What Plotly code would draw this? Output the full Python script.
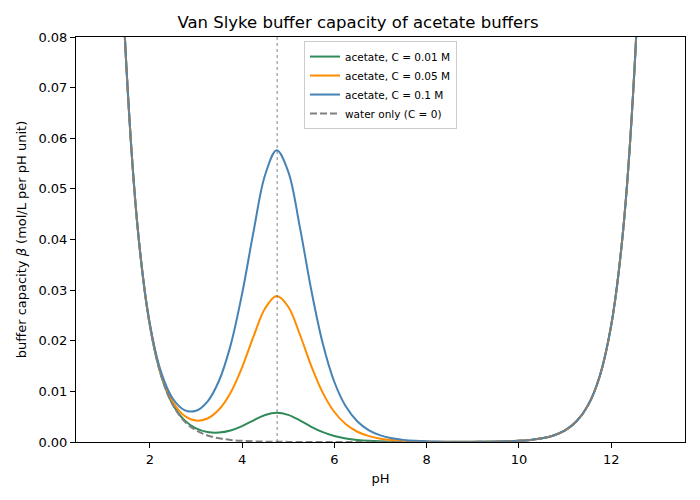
import plotly.graph_objects as go

# pH grid and buffer capacity readings (mol/L per pH unit)
ph = [1.0, 1.25, 1.5, 1.75, 2.0, 2.25, 2.5, 2.75, 3.0, 3.25, 3.5, 3.75,
      4.0, 4.25, 4.5, 4.75, 5.0, 5.25, 5.5, 5.75, 6.0, 6.25, 6.5, 6.75,
      7.0, 7.25, 7.5, 7.75, 8.0, 8.25, 8.5, 8.75, 9.0, 9.25, 9.5, 9.75,
      10.0, 10.25, 10.5, 10.75, 11.0, 11.25, 11.5, 11.75, 12.0, 12.25, 12.5, 12.75, 13.0]

beta_c001 = [0.230304, 0.129517, 0.072840, 0.040976, 0.023070, 0.013022, 0.007408, 0.004316,
             0.002690, 0.001965, 0.001865, 0.002277, 0.003135, 0.004283, 0.005344, 0.005798,
             0.005363, 0.004267, 0.003007, 0.001944, 0.001187, 0.000700, 0.000405, 0.000231,
             0.000132, 0.0000744, 0.0000425, 0.0000248, 0.0000155, 0.0000115, 0.0000115, 0.0000154,
             0.0000243, 0.0000418, 0.0000732, 0.0001297, 0.0002304, 0.00041, 0.000728, 0.001295,
             0.002303, 0.004095, 0.007283, 0.012951, 0.02303, 0.040954, 0.072827, 0.12951, 0.2303]

beta_c005 = [0.23032, 0.12955, 0.07289, 0.04107, 0.02323, 0.013305, 0.007909, 0.005199,
             0.004236, 0.004644, 0.006414, 0.009748, 0.014754, 0.020897, 0.026428, 0.028826,
             0.026721, 0.021283, 0.015006, 0.009701, 0.005927, 0.003498, 0.002022, 0.001155,
             0.000656, 0.000371, 0.000210, 0.000119, 0.0000685, 0.0000413, 0.0000282, 0.0000248,
             0.0000296, 0.0000447, 0.0000749, 0.0001307, 0.000231, 0.00041, 0.000728, 0.001295,
             0.002303, 0.004095, 0.007283, 0.012951, 0.02303, 0.040954, 0.072827, 0.12951, 0.2303]

beta_c01 = [0.23034, 0.12958, 0.07295, 0.04118, 0.02343, 0.01366, 0.008535, 0.006303,
            0.006170, 0.007992, 0.012100, 0.019087, 0.029278, 0.041664, 0.052783, 0.057611,
            0.053418, 0.042552, 0.030004, 0.019398, 0.011851, 0.006993, 0.004043, 0.002310,
            0.001311, 0.000741, 0.000418, 0.000237, 0.000135, 0.0000786, 0.0000492, 0.0000366,
            0.0000363, 0.0000485, 0.000077, 0.000132, 0.000232, 0.00041, 0.000729, 0.001295,
            0.002303, 0.004095, 0.007283, 0.012951, 0.02303, 0.040954, 0.072827, 0.12951, 0.2303]

beta_water = [0.2303, 0.12951, 0.072827, 0.040954, 0.02303, 0.012951, 0.0072827, 0.0040954,
              0.002303, 0.0012951, 0.00072827, 0.00040954, 0.0002303, 0.0001295, 0.0000728, 0.000041,
              0.000023, 0.000013, 0.0000073, 0.0000041, 0.0000023, 0.0000013, 0.0000007, 0.0000004,
              0.00000046, 0.0000004, 0.0000007, 0.0000013, 0.0000023, 0.0000041, 0.0000073, 0.000013,
              0.000023, 0.000041, 0.0000728, 0.0001295, 0.0002303, 0.00040954, 0.00072827, 0.0012951,
              0.002303, 0.0040954, 0.0072827, 0.012951, 0.02303, 0.040954, 0.072827, 0.12951, 0.2303]

pka = 4.76

series = [
    ("acetate, C = 0.01 M", beta_c001, "#2e8b57", "solid"),
    ("acetate, C = 0.05 M", beta_c005, "#ff8c00", "solid"),
    ("acetate, C = 0.1 M", beta_c01, "#4682b4", "solid"),
    ("water only (C = 0)", beta_water, "#808080", "7px,3px"),
]

fig = go.Figure()
for name, vals, color, dash in series:
    fig.add_trace(go.Scatter(x=ph, y=vals, mode="lines", name=name,
                             line=dict(color=color, width=2, dash=dash, shape="spline")))

fig.add_vline(x=pka, line=dict(color="#666666", width=0.8, dash="dot"))

axis_style = dict(showline=True, linecolor="black", linewidth=1, mirror=True,
                  ticks="outside", ticklen=5, tickcolor="black", showgrid=False,
                  zeroline=False, tickfont=dict(size=13, color="black"))

fig.update_layout(
    width=700, height=500,
    paper_bgcolor="white", plot_bgcolor="white",
    font=dict(family="DejaVu Sans", color="black"),
    margin=dict(l=68, r=23, t=29, b=66),
    title=dict(text="Van Slyke buffer capacity of acetate buffers", x=0.5, xanchor="center",
               y=0.972, yanchor="middle", font=dict(size=16.5)),
    xaxis=dict(range=[0.4, 13.6], tickvals=[2, 4, 6, 8, 10, 12],
               title=dict(text="pH", font=dict(size=13), standoff=8), **axis_style),
    yaxis=dict(range=[0, 0.08], dtick=0.01, tickformat=".2f",
               title=dict(text="buffer capacity <i>β</i> (mol/L per pH unit)", font=dict(size=13), standoff=8),
               **axis_style),
    legend=dict(x=0.5, xanchor="center", y=0.99, yanchor="top", bgcolor="white",
                bordercolor="#cccccc", borderwidth=1, font=dict(size=10.5)),
)

fig.write_html("out.html")
